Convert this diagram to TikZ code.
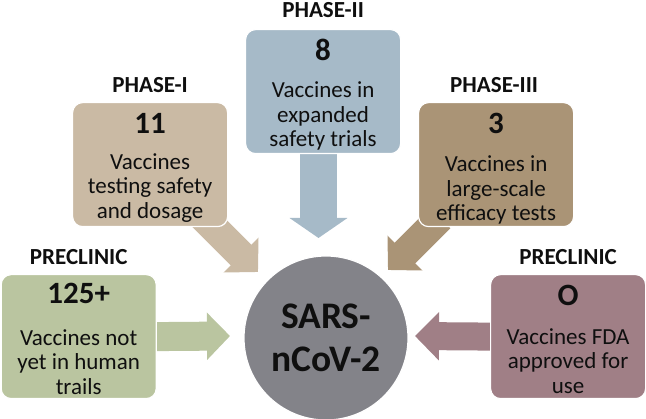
\documentclass[tikz,border=0pt]{standalone}
\usepackage{fontspec}
\setmainfont{Carlito}
\usetikzlibrary{arrows.meta,calc,backgrounds}
\definecolor{cgreen}{RGB}{186,197,160}
\definecolor{ctan}{RGB}{202,186,164}
\definecolor{cblue}{RGB}{166,186,200}
\definecolor{cbrown}{RGB}{170,148,118}
\definecolor{cmauve}{RGB}{160,127,134}
\definecolor{cgray}{RGB}{131,131,137}
\definecolor{ctext}{RGB}{15,15,15}
\tikzset{
  boxst/.style={draw=white, line width=1.2pt, rounded corners=10pt, minimum width=155pt, minimum height=124pt, inner sep=0pt, anchor=north west},
  lab/.style={font=\bfseries\fontsize{23}{26}\selectfont, text=ctext, inner sep=0pt},
  num/.style={font=\bfseries\fontsize{31}{34}\selectfont, text=ctext, inner sep=0pt},
  desc/.style={font=\fontsize{23}{24.5}\selectfont, align=center, text=ctext, inner sep=0pt},
  blk/.style={line width=#1}
}
\begin{document}
\begin{tikzpicture}[x=1pt,y=-1pt]
\useasboundingbox (0,0) rectangle (646,419);
% boxes
\node[boxst, fill=cgreen] (pre1) at (0.6,274) {};
\node[boxst, fill=ctan] (ph1) at (72,102) {};
\node[boxst, fill=cblue] (ph2) at (245,29) {};
\node[boxst, fill=cbrown] (ph3) at (418,102) {};
\node[boxst, fill=cmauve] (pre2) at (490,274) {};
\node[circle, fill=cgray, draw=white, line width=1.2pt, minimum size=164pt, inner sep=0pt,
      font=\bfseries\fontsize{37.5}{43}\selectfont, align=center, text=ctext] (sars) at (326,338) {SARS-\\nCoV-2};
% labels
\node[lab] (l1) at ($(pre1.north)+(0,-17)$) {PRECLINIC};
\node[lab] (l2) at ($(ph1.north)+(0,-17)$) {PHASE-I};
\node[lab] (l3) at ($(ph2.north)+(0,-19)$) {PHASE-II};
\node[lab] (l4) at ($(ph3.north)+(-2,-17)$) {PHASE-III};
\node[lab] (l5) at ($(pre2.north)+(0,-17)$) {PRECLINIC};
% numbers
\node[num] (n1) at ($(pre1.north)+(0,19)$) {125+};
\node[num] (n2) at ($(ph1.north)+(0,21)$) {11};
\node[num] (n3) at ($(ph2.north)+(0,21)$) {8};
\node[num] (n4) at ($(ph3.north)+(0,21)$) {3};
\node[num] (n5) at ($(pre2.north)+(0,21)$) {O};
% descriptions
\node[desc] (d1) at ($(pre1.north)+(0,88)$) {Vaccines not\\yet in human\\trails};
\node[desc] (d2) at ($(ph1.north)+(0,86)$) {Vaccines\\testing safety\\and dosage};
\node[desc] (d3) at ($(ph2.north)+(0,87)$) {Vaccines in\\expanded\\safety trials};
\node[desc] (d4) at ($(ph3.north)+(0,88)$) {Vaccines in\\large-scale\\efficacy tests};
\node[desc] (d5) at ($(pre2.north)+(0,87)$) {Vaccines FDA\\approved for\\use};
% arrows
\coordinate (t1) at (230,336);
\coordinate (s2) at (200,214);
\coordinate (t2) at (258,272);
\coordinate (s3) at (318.5,150);
\coordinate (t3) at (318.5,238);
\coordinate (s4) at (440,218);
\coordinate (t4) at (388,270);
\coordinate (t5) at (415,336);
\begin{scope}[on background layer]
\draw[blk=29pt, cgreen, -{Triangle[length=23pt,width=46pt]}] (pre1.east) -- (t1);
\draw[blk=29pt, ctan, -{Triangle[length=24pt,width=48pt]}] (s2) -- (t2);
\draw[blk=37pt, cblue, -{Triangle[length=20pt,width=57pt]}] (s3) -- (t3);
\draw[blk=29pt, cbrown, -{Triangle[length=24pt,width=48pt]}] (s4) -- (t4);
\draw[blk=28pt, cmauve, -{Triangle[length=24pt,width=47pt]}] (pre2.west) -- (t5);
\end{scope}
\end{tikzpicture}
\end{document}
